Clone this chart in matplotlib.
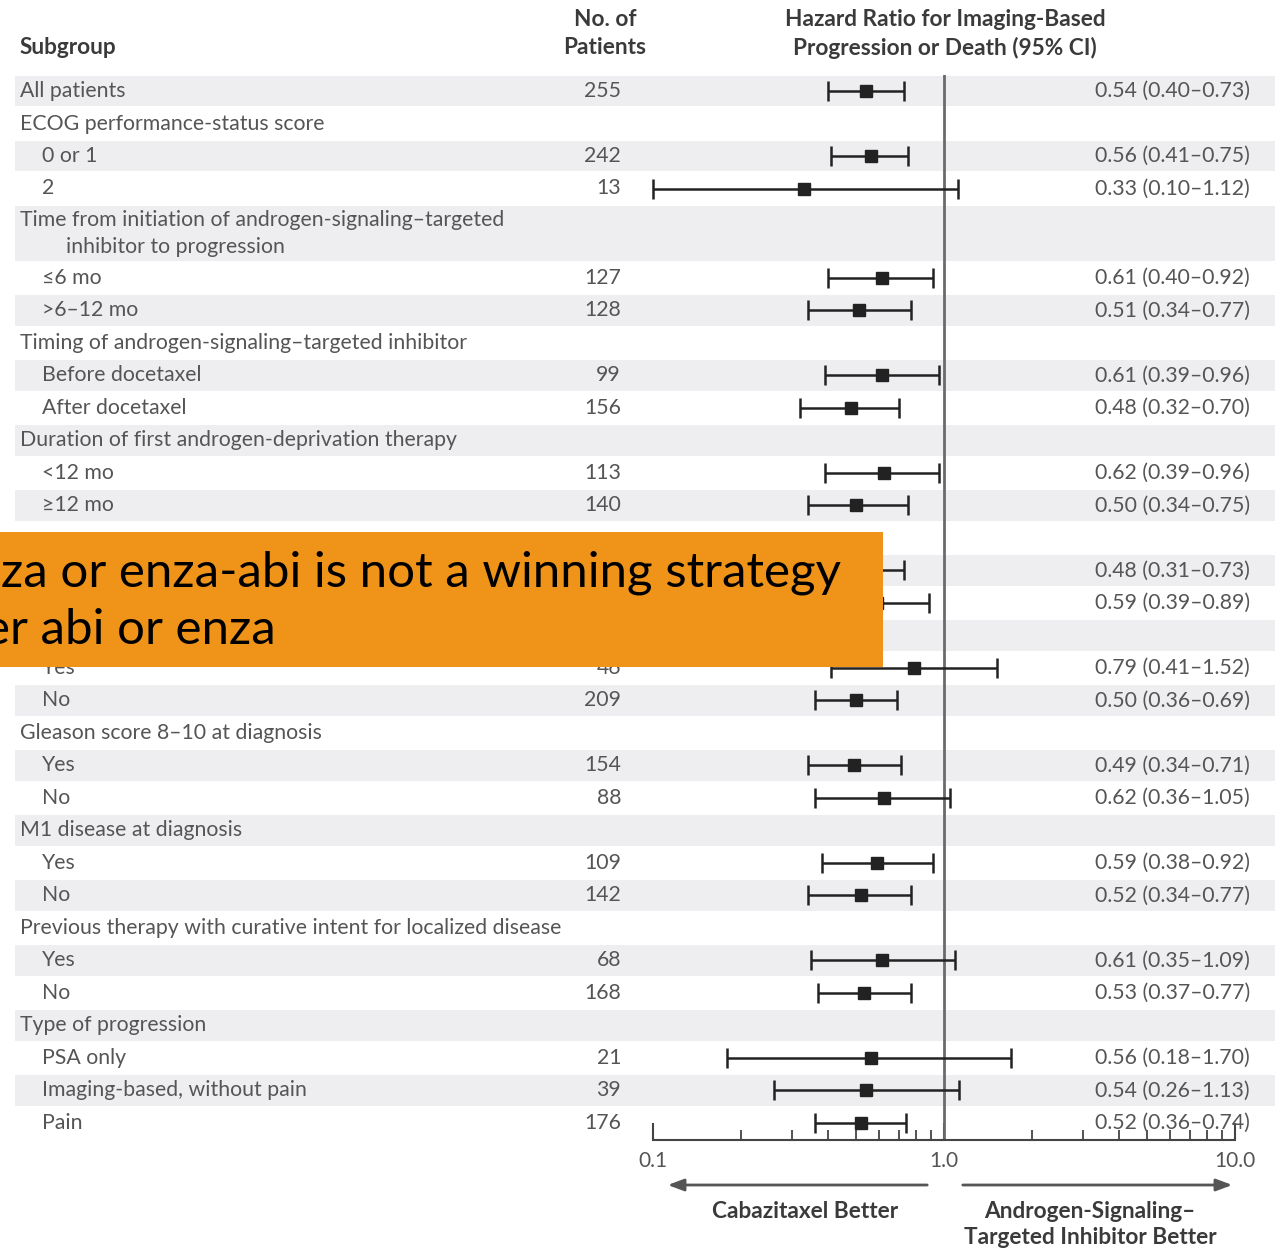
import numpy as np
import matplotlib.pyplot as plt
import matplotlib.transforms as mtransforms
from matplotlib.patches import Rectangle, FancyArrowPatch
from matplotlib.ticker import LogLocator, NullFormatter

W, H = 1288, 1250

# subgroup rows, top to bottom; indent 0 = heading/overall, 1 = category
labels = ["All patients",
          "ECOG performance-status score", "0 or 1", "2",
          "Time from initiation of androgen-signaling\u2013targeted", "\u22646 mo", ">6\u201312 mo",
          "Timing of androgen-signaling\u2013targeted inhibitor", "Before docetaxel", "After docetaxel",
          "Duration of first androgen-deprivation therapy", "<12 mo", "\u226512 mo",
          "", "", "",
          "", "Yes", "No",
          "Gleason score 8\u201310 at diagnosis", "Yes", "No",
          "M1 disease at diagnosis", "Yes", "No",
          "Previous therapy with curative intent for localized disease", "Yes", "No",
          "Type of progression", "PSA only", "Imaging-based, without pain", "Pain"]
indent = [0, 0, 1, 1, 0, 1, 1, 0, 1, 1, 0, 1, 1, 0, 1, 1, 0, 1, 1,
          0, 1, 1, 0, 1, 1, 0, 1, 1, 0, 1, 1, 1]
patients = ["255", "", "242", "13", "", "127", "128", "", "99", "156", "", "113", "140",
            "", "", "", "", "46", "209", "", "154", "88", "", "109", "142",
            "", "68", "168", "", "21", "39", "176"]
hr = [0.54, None, 0.56, 0.33, None, 0.61, 0.51, None, 0.61, 0.48, None, 0.62, 0.50,
      None, 0.48, 0.59, None, 0.79, 0.50, None, 0.49, 0.62, None, 0.59, 0.52,
      None, 0.61, 0.53, None, 0.56, 0.54, 0.52]
ci_lo = [0.40, None, 0.41, 0.10, None, 0.40, 0.34, None, 0.39, 0.32, None, 0.39, 0.34,
         None, 0.31, 0.39, None, 0.41, 0.36, None, 0.34, 0.36, None, 0.38, 0.34,
         None, 0.35, 0.37, None, 0.18, 0.26, 0.36]
ci_hi = [0.73, None, 0.75, 1.12, None, 0.92, 0.77, None, 0.96, 0.70, None, 0.96, 0.75,
         None, 0.73, 0.89, None, 1.52, 0.69, None, 0.71, 1.05, None, 0.92, 0.77,
         None, 1.09, 0.77, None, 1.70, 1.13, 0.74]
wrap_line = {4: "inhibitor to progression"}

# row heights (the wrapped heading is taller); positions in row units from the first row
heights = [1.75 if i in wrap_line else 1.0 for i in range(len(labels))]
ypos = [0.0]
edge = 0.5
for h in heights[1:]:
    ypos.append(edge + 0.5 * h)
    edge += h
pitch = 32.5

def fx(px):
    return px / W

def fy(py):
    return 1 - py / H

plt.rcParams['font.family'] = ['Lato', 'DejaVu Sans']
fig = plt.figure(figsize=(W / 100, H / 100), dpi=100)

# forest axes: log scale 0.1-10, rows in row units
top_px, bot_px = 75, 1140
ax = fig.add_axes([fx(653), fy(bot_px), fx(1235) - fx(653), (bot_px - top_px) / H])
ax.set_xscale("log")
ax.set_xlim(0.1, 10)
ax.set_ylim((bot_px - 91) / pitch, (top_px - 91) / pitch)
ax.patch.set_alpha(0)
for s in ["top", "right", "left"]:
    ax.spines[s].set_visible(False)
ax.spines["bottom"].set_color("#444444")
ax.spines["bottom"].set_linewidth(1.5)
ax.set_yticks([])
ax.set_xticks([0.1, 1, 10])
ax.set_xticklabels(["0.1", "1.0", "10.0"])
ax.xaxis.set_minor_locator(LogLocator(base=10, subs=np.arange(2, 10)))
ax.xaxis.set_minor_formatter(NullFormatter())
ax.tick_params(axis="x", which="major", direction="in", length=12, width=1.5,
               color="#444444", labelsize=15, labelcolor="#555555", pad=8)
ax.tick_params(axis="x", which="minor", direction="in", length=7, width=1.3, color="#444444")

ax.axvline(1.0, color="#6a6a6a", lw=2, zorder=2)

blend = mtransforms.blended_transform_factory(fig.transFigure, ax.transData)
txt_color = "#555555"
fs = 15.3

for i, lab in enumerate(labels):
    y = ypos[i]
    h = heights[i]
    if i % 2 == 0:
        ax.add_patch(Rectangle((fx(15), y - 0.5 * h + 0.03), fx(1275) - fx(15), h - 0.06,
                               transform=blend, color="#eeeef1", lw=0, zorder=0, clip_on=False))
    xl = fx(20) if indent[i] == 0 else fx(42)
    if i in wrap_line:
        off = 13.5 / pitch
        ax.text(xl, y - off, lab, transform=blend, ha="left", va="center",
                fontsize=fs, color=txt_color, clip_on=False)
        ax.text(fx(66), y + off, wrap_line[i], transform=blend, ha="left", va="center",
                fontsize=fs, color=txt_color, clip_on=False)
    else:
        ax.text(xl, y, lab, transform=blend, ha="left", va="center",
                fontsize=fs, color=txt_color, clip_on=False)
    if patients[i]:
        ax.text(fx(621), y, patients[i], transform=blend, ha="right", va="center",
                fontsize=fs, color=txt_color, clip_on=False)
    if hr[i] is not None:
        ax.errorbar(hr[i], y, xerr=[[hr[i] - ci_lo[i]], [ci_hi[i] - hr[i]]], fmt="s",
                    color="#222222", ms=9, elinewidth=1.8, capsize=7, capthick=1.8,
                    zorder=3, clip_on=False)
        ax.text(fx(1095), y, f"{hr[i]:.2f} ({ci_lo[i]:.2f}\u2013{ci_hi[i]:.2f})",
                transform=blend, ha="left", va="center", fontsize=fs,
                color=txt_color, clip_on=False)

# column headings
hcol = "#3a3a3a"
hfs = 16.3
fig.text(fx(20), fy(48), "Subgroup", ha="left", va="center", fontsize=hfs,
         fontweight="bold", color=hcol)
fig.text(fx(605), fy(20), "No. of", ha="center", va="center", fontsize=hfs,
         fontweight="bold", color=hcol)
fig.text(fx(605), fy(48), "Patients", ha="center", va="center", fontsize=hfs,
         fontweight="bold", color=hcol)
fig.text(fx(945), fy(20), "Hazard Ratio for Imaging-Based", ha="center", va="center",
         fontsize=hfs, fontweight="bold", color=hcol)
fig.text(fx(945), fy(48), "Progression or Death (95% CI)", ha="center", va="center",
         fontsize=hfs, fontweight="bold", color=hcol)

# direction arrows under the axis
arrow_kw = dict(arrowstyle="-|>,head_length=0.8,head_width=0.3", color="#555555", lw=2)
fig.add_artist(FancyArrowPatch((fx(930), fy(1185)), (fx(665), fy(1185)),
               transform=fig.transFigure, mutation_scale=12, **arrow_kw))
fig.add_artist(FancyArrowPatch((fx(960), fy(1185)), (fx(1235), fy(1185)),
               transform=fig.transFigure, mutation_scale=12, **arrow_kw))
fig.text(fx(805), fy(1211), "Cabazitaxel Better", ha="center", va="center", fontsize=hfs,
         fontweight="bold", color=hcol)
fig.text(fx(1090), fy(1212), "Androgen-Signaling\u2013", ha="center", va="center", fontsize=hfs,
         fontweight="bold", color=hcol)
fig.text(fx(1090), fy(1238), "Targeted Inhibitor Better", ha="center", va="center", fontsize=hfs,
         fontweight="bold", color=hcol)

# orange callout over the middle rows
fig.add_artist(Rectangle((0, fy(667)), fx(883), fy(532) - fy(667), transform=fig.transFigure,
                         color="#ef9418", lw=0, zorder=10))
fig.text(fx(1), fy(573), "za or enza-abi is not a winning strategy", ha="left", va="center",
         fontsize=35.5, color="black", zorder=11)
fig.text(fx(-16), fy(630), "er abi or enza", ha="left", va="center",
         fontsize=35.5, color="black", zorder=11)

fig.savefig("out.png", dpi=100)
